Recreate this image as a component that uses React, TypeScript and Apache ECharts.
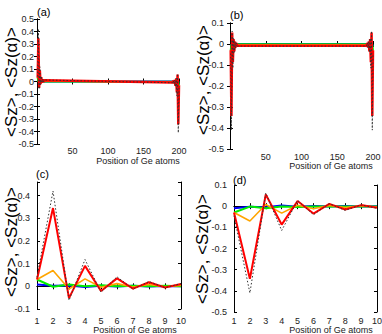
import React, { useEffect, useRef } from "react";
import * as echarts from "echarts";

// Positions of Ge atoms shown in the zoomed panels (c), (d)
const positions = [1, 2, 3, 4, 5, 6, 7, 8, 9, 10];

// Panel (c): first ten atoms, positive edge
const cRed = [0.03, 0.345, -0.052, 0.09, -0.021, 0.035, -0.01, 0.018, -0.005, 0.01];
const cDotted = [0.04, 0.42, -0.062, 0.118, -0.026, 0.042, -0.012, 0.021, -0.006, 0.012];
const cOrange = [0.03, 0.07, -0.012, 0.033, -0.004, 0.012, -0.003, 0.008, -0.002, 0.004];
const cGreen = [0.03, -0.002, 0.008, 0.0, 0.005, 0.0, 0.003, 0.0, 0.002, 0.0];
const cBlue = [0.008, 0.003, 0.004, -0.003, 0.003, -0.001, 0.002, -0.001, 0.001, 0.0];

// Panel (d): first ten atoms, negative edge
const dRed = [-0.03, -0.343, 0.055, -0.087, 0.024, -0.035, 0.011, -0.016, 0.005, -0.008];
const dDotted = [-0.045, -0.41, 0.062, -0.115, 0.027, -0.04, 0.012, -0.02, 0.006, -0.01];
const dOrange = [-0.03, -0.07, 0.008, -0.033, 0.004, -0.012, 0.003, -0.007, 0.002, -0.004];
const dGreen = [-0.03, -0.002, -0.01, -0.002, -0.004, -0.002, -0.002, -0.001, -0.001, -0.001];
const dBlue = [-0.01, -0.003, -0.005, 0.003, -0.003, 0.001, -0.002, 0.001, -0.001, 0.0];

// Full chain length for panels (a), (b)
const chainLength = 200;

// Tick settings
const fullXTicks = { min: 0, max: 200, interval: 50 };
const zoomXTicks = { min: 1, max: 10, interval: 1 };
const yA = { min: -0.5, max: 0.5, interval: 0.1 };
const yB = { min: -0.5, max: 0.1, interval: 0.1 };
const yC = { min: -0.1, max: 0.46, interval: 0.1 };
const yD = { min: -0.5, max: 0.1, interval: 0.1 };

const FONT = '"Liberation Sans", Arial, sans-serif';

function zoomData(vals: number[]) {
  return positions.map((p, i) => [p, vals[i]]);
}
// full chain: left edge values at positions 1..10, right edge values mirrored at chain end
function chainData(left: number[], right: number[]) {
  const l = positions.map((p, i) => [p, left[i]]);
  const r = positions
    .map((p, i) => [chainLength + 1 - p, right[i]])
    .reverse();
  return [...l, ...r];
}

const fmtY = (v: number) => {
  const r = Math.round(v * 10) / 10;
  if (Math.abs(v - r) > 1e-6) return "";
  return String(r);
};

export default function App() {
  const ref = useRef<HTMLDivElement>(null);
  useEffect(() => {
    if (!ref.current) return;
    const chart = echarts.init(ref.current, null, { renderer: "svg" });

    const grids = [
      { left: 37, top: 19, width: 142, height: 125 },
      { left: 230, top: 23, width: 143, height: 126 },
      { left: 37, top: 182, width: 144, height: 127 },
      { left: 234, top: 185, width: 143, height: 127 },
    ];
    const xCfg = [fullXTicks, fullXTicks, zoomXTicks, zoomXTicks];
    const yCfg = [yA, yB, yC, yD];
    const xLabelMargin = [2, 3, 7, 4];
    const yLabelMargin = [3, 6, 7, 7];

    const xAxis: any[] = [];
    const yAxis: any[] = [];
    grids.forEach((g, k) => {
      const line = { show: true, lineStyle: { color: "#000", width: 1 } };
      const tick = { show: true, inside: true, length: 3, lineStyle: { color: "#000" } };
      xAxis.push({
        type: "value",
        gridIndex: k,
        position: "bottom",
        ...xCfg[k],
        axisLine: line,
        axisTick: tick,
        splitLine: { show: false },
        axisLabel: {
          show: true,
          margin: xLabelMargin[k],
          color: "#222",
          fontSize: 9,
          fontFamily: FONT,
          formatter: (v: number) => (k < 2 && v === 0 ? "" : String(v)),
        },
      });
      xAxis.push({
        type: "value",
        gridIndex: k,
        position: "top",
        ...xCfg[k],
        axisLine: line,
        axisTick: tick,
        splitLine: { show: false },
        axisLabel: { show: false },
      });
      yAxis.push({
        type: "value",
        gridIndex: k,
        position: "left",
        ...yCfg[k],
        axisLine: line,
        axisTick: tick,
        splitLine: { show: false },
        axisLabel: {
          show: true,
          margin: yLabelMargin[k],
          color: "#222",
          fontSize: 9,
          fontFamily: FONT,
          formatter: fmtY,
        },
      });
      yAxis.push({
        type: "value",
        gridIndex: k,
        position: "right",
        ...yCfg[k],
        axisLine: line,
        axisTick: tick,
        splitLine: { show: false },
        axisLabel: { show: false },
      });
    });

    const mk = (k: number, data: any[], color: string, width: number, dotted = false, z = 2) => ({
      type: "line",
      xAxisIndex: 2 * k,
      yAxisIndex: 2 * k,
      data,
      showSymbol: false,
      symbol: "none",
      z,
      lineStyle: dotted
        ? { color: "#333", width: 1, type: [1.5, 2] }
        : { color, width },
      emphasis: { disabled: true },
    });

    const panelSets = [
      { build: chainData, l: [cBlue, cGreen, cOrange, cRed, cDotted], r: [dBlue, dGreen, dOrange, dRed, dDotted], red: 2.5 },
      { build: chainData, l: [dBlue, dGreen, dOrange, dRed, dDotted], r: [dBlue, dGreen, dOrange, dRed, dDotted], red: 2.5 },
      { build: null, l: [cBlue, cGreen, cOrange, cRed, cDotted], r: null, red: 2 },
      { build: null, l: [dBlue, dGreen, dOrange, dRed, dDotted], r: null, red: 2 },
    ];
    const colors = ["#0000ff", "#00ee00", "#ffa500", "#ff0000", "#333"];
    const widths = [2, 2, 1.6, 2, 1];
    const series: any[] = [];
    panelSets.forEach((ps, k) => {
      ps.l.forEach((arr, j) => {
        const data = ps.build ? ps.build(arr, (ps.r as number[][])[j]) : zoomData(arr);
        const w = j === 3 ? ps.red : widths[j];
        series.push(mk(k, data, colors[j], w, j === 4, 2 + j));
      });
    });

    const yTitle = (x: number, y: number) => ({
      type: "text",
      x,
      y,
      rotation: Math.PI / 2,
      style: {
        text: "<Sz>, <Sz(α)>",
        font: `17px ${FONT}`,
        fill: "#000",
        align: "center",
        verticalAlign: "middle",
      },
      z: 10,
    });
    const xTitle = (x: number, y: number) => ({
      type: "text",
      x,
      y,
      style: {
        text: "Position of Ge atoms",
        font: `9px ${FONT}`,
        fill: "#222",
        align: "center",
        verticalAlign: "middle",
      },
      z: 10,
    });
    const panelLabel = (t: string, x: number, y: number) => ({
      type: "text",
      x,
      y,
      style: {
        text: t,
        font: `11px ${FONT}`,
        fill: "#000",
        align: "left",
        verticalAlign: "middle",
      },
      z: 10,
    });

    chart.setOption({
      animation: false,
      backgroundColor: "#fff",
      grid: grids.map((g) => ({ ...g, containLabel: false, outerBoundsMode: "none" })),
      xAxis,
      yAxis,
      series,
      graphic: [
        yTitle(11, 82),
        yTitle(203, 80),
        yTitle(11, 242),
        yTitle(202, 249),
        xTitle(138, 161),
        xTitle(331, 166),
        xTitle(135, 329.5),
        xTitle(331, 329.6),
        panelLabel("(a)", 37, 12),
        panelLabel("(b)", 230, 15),
        panelLabel("(c)", 36, 174),
        panelLabel("(d)", 233, 180),
      ],
    });
    return () => chart.dispose();
  }, []);
  return (
    <div
      ref={ref}
      style={{ position: "fixed", left: 0, top: 0, width: 382, height: 334 }}
    />
  );
}
